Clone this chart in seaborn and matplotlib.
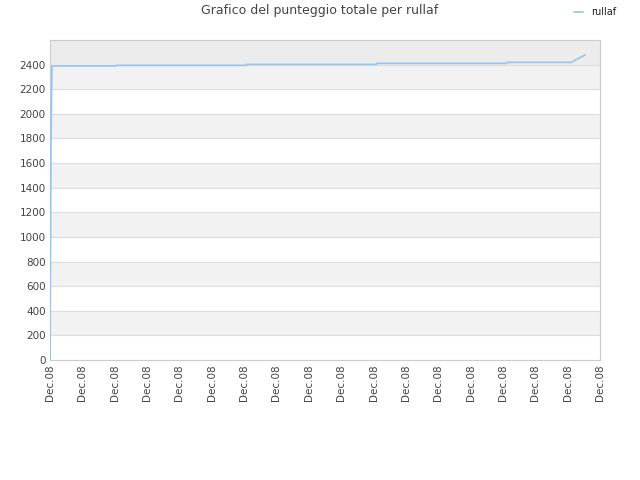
import matplotlib
matplotlib.use("Agg")
import matplotlib.pyplot as plt
import seaborn as sns
import pandas as pd

# DATA
# x position in "tick units" (0..17 along the date axis), y = total score
tick_labels = ["Dec.08"] * 18
step_x = [0.0, 0.01, 0.03, 0.06, 2.04, 2.07, 6.06, 6.09, 10.08, 10.11,
          14.09, 14.12, 16.11, 16.54]
score = [0, 590, 1800, 2389, 2389, 2394, 2394, 2402, 2402, 2410,
         2410, 2418, 2418, 2479]
player = "rullaf"

df = pd.DataFrame({"x": step_x, "score": score, "player": player})

# STYLE SETTINGS
sns.set_style("white")
plt.rcParams["font.family"] = ["DejaVu Sans"]

fig = plt.figure(figsize=(6.4, 4.8), dpi=100)
ax = fig.add_axes([50 / 640, 120 / 480, 550 / 640, 320 / 480])

# alternating bands
for lo in range(200, 2400, 400):
    ax.axhspan(lo, lo + 200, color="#f2f2f2", zorder=0, lw=0)
ax.axhspan(2400, 2600, color="#ececec", zorder=0, lw=0)
for y in range(200, 2600, 200):
    ax.axhline(y, color="#dddddd", lw=0.8, zorder=1)

sns.lineplot(
    data=df,
    x="x",
    y="score",
    hue="player",
    palette=["#94c4f0"],
    linewidth=1.2,
    ax=ax,
    zorder=3
)

ax.set_xlim(0, 17)
ax.set_ylim(0, 2600)
ax.set_xticks(range(len(tick_labels)))
ax.set_xticklabels(tick_labels, rotation=90, fontsize=7.5, color="#444444")
ax.set_yticks(range(0, 2600, 200))
ax.set_yticklabels([str(v) for v in range(0, 2600, 200)], fontsize=7.5, color="#444444")
ax.tick_params(length=0, pad=3)
ax.set_xlabel("")
ax.set_ylabel("")
for sp in ax.spines.values():
    sp.set_color("#cccccc")
    sp.set_linewidth(0.8)

fig.text(0.5, 1 - 4 / 480, "Grafico del punteggio totale per rullaf",
         ha="center", va="top", fontsize=9, color="#444444")

leg = ax.legend(loc="upper right", bbox_to_anchor=(1.0455, 1.13),
                frameon=False, fontsize=7, handlelength=1.0, handletextpad=0.8)
for t in leg.get_texts():
    t.set_color("#222222")

fig.savefig("out.png", dpi=100)
